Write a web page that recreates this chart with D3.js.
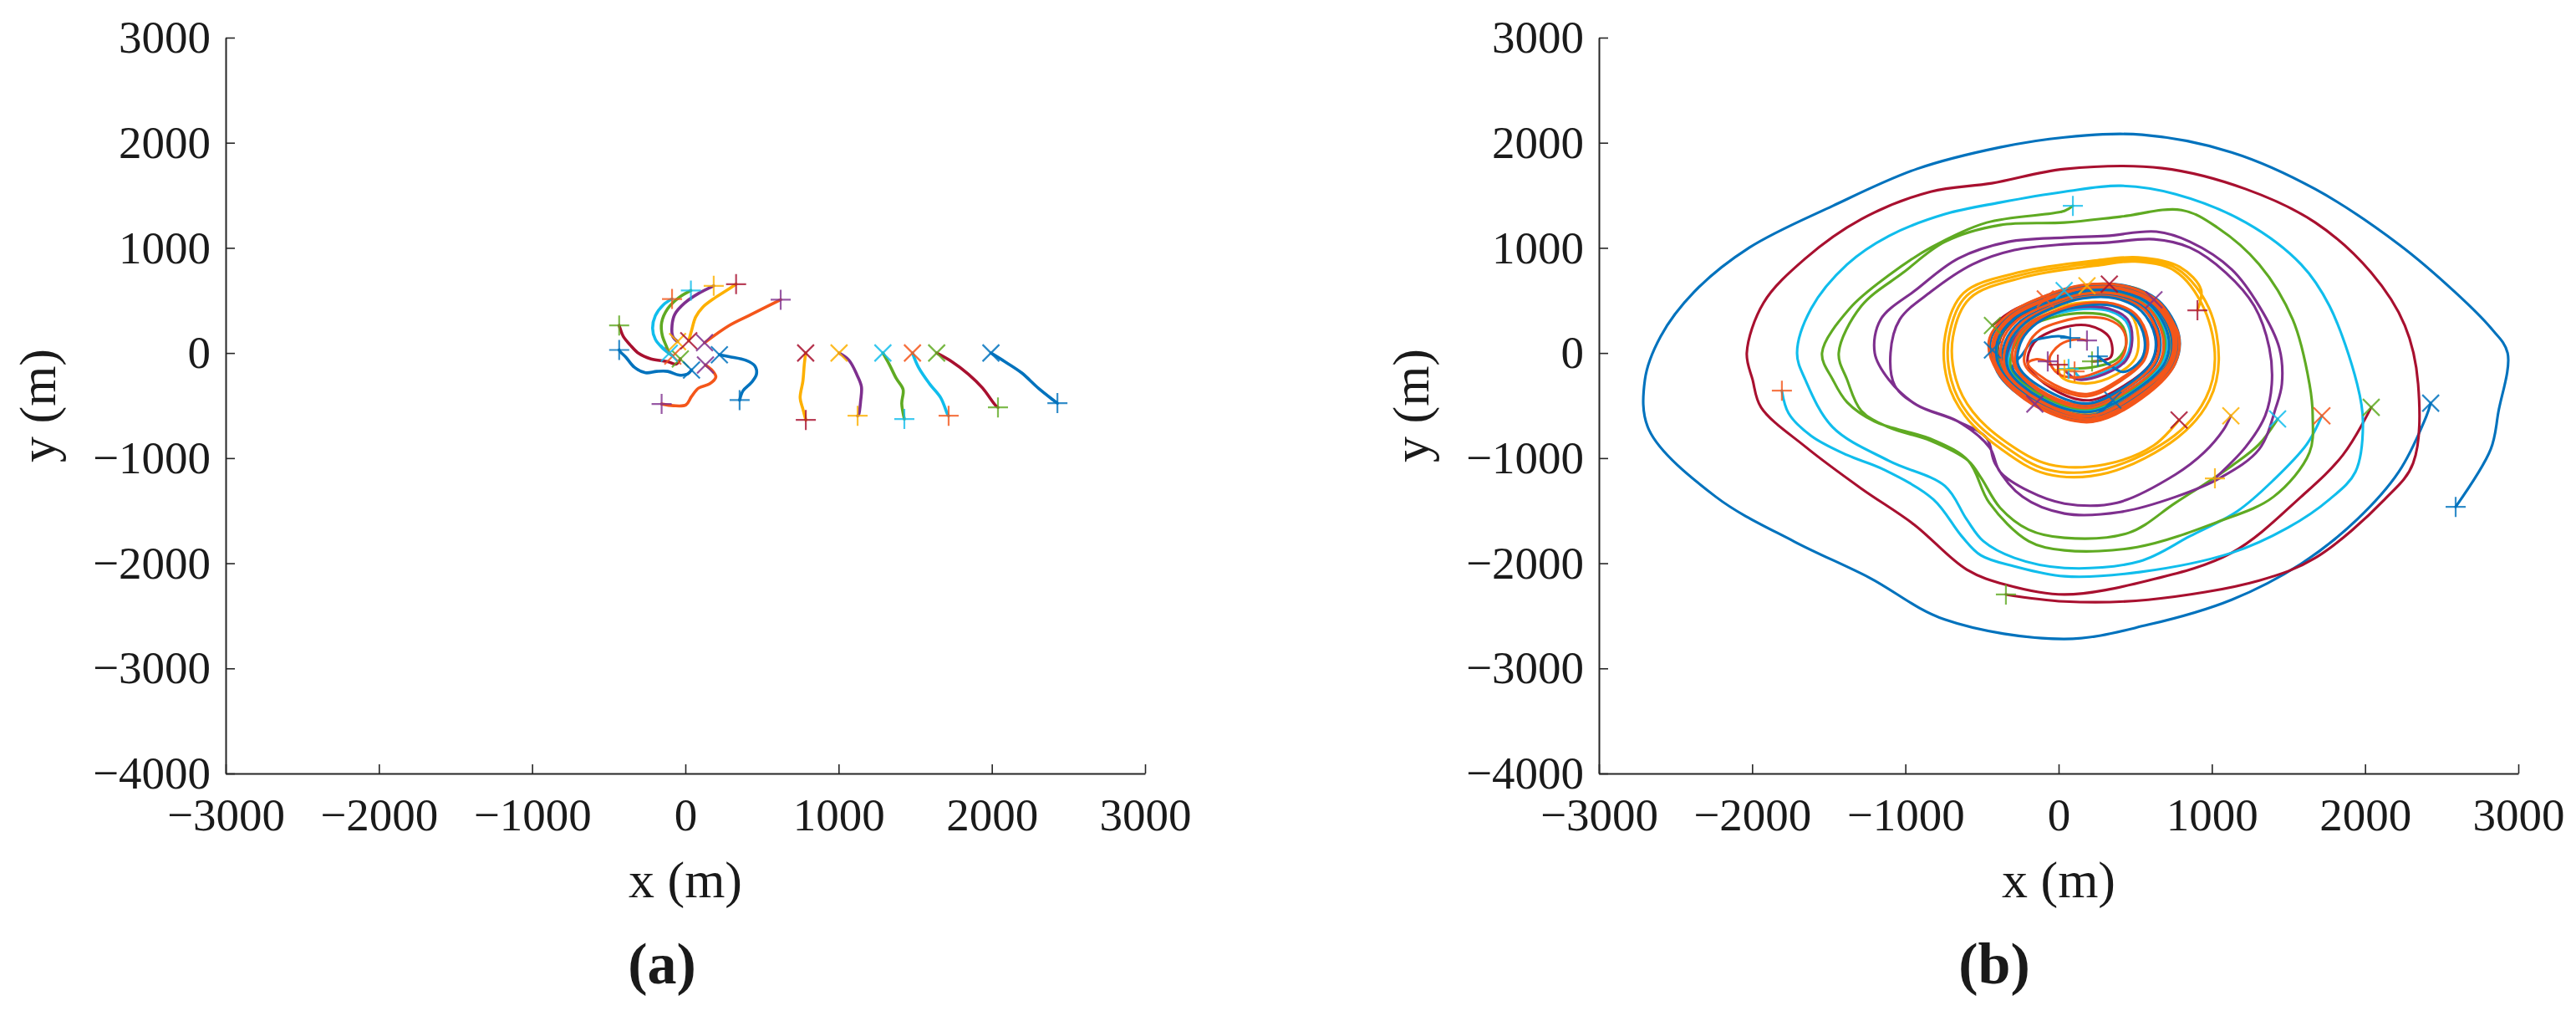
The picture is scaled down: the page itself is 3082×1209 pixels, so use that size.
<!DOCTYPE html>
<html>
<head>
<meta charset="utf-8">
<script src="https://cdn.jsdelivr.net/npm/d3@7"></script>
<style>
  body { margin: 0; background: #fff; }
  text { font-family: "Liberation Serif", "Times New Roman", serif; fill: #1a1a1a; }
</style>
</head>
<body>
<svg id="fig"></svg>
<script>
// axis ticks
const xTicks = [-3000, -2000, -1000, 0, 1000, 2000, 3000];
const yTicks = [-4000, -3000, -2000, -1000, 0, 1000, 2000, 3000];
const panelLabels = ["(a)", "(b)"];

// ---- panel (a): trajectories, start = first point (x), end = last point (+)
const aRed = [[-33,-56],[-60,-105],[-115,-82],[-224,-56],[-305,-3],[-360,76],[-405,157],[-425,230],[-432,262]];
const aBlue1 = [[40,-162],[13,-201],[-42,-210],[-115,-175],[-187,-175],[-260,-188],[-333,-135],[-387,-42],[-425,13],[-432,29]];
const aBlue2 = [[222,-16],[286,-34],[395,-69],[453,-122],[464,-201],[431,-281],[376,-360],[354,-448]];
const aOrange1 = [[125,98],[286,262],[431,368],[622,507]];
const aOrange2 = [[131,-114],[176,-167],[199,-228],[158,-294],[86,-334],[40,-414],[4,-493],[-78,-501],[-155,-485]];
const aCyanC = [[-82,-29],[-151,50],[-196,130],[-214,236],[-196,355],[-142,461],[-87,514]];
const aGreenC = [[-105,-3],[-124,64],[-151,169],[-155,289],[-115,422],[-42,527],[36,594]];
const aPurpleC = [[-51,109],[-82,157],[-87,262],[-69,368],[-5,475],[86,567],[185,639]];
const aYellowC = [[22,117],[40,211],[67,342],[113,435],[195,527],[267,594],[331,655]];
const aYellow = [[785,0],[776,-109],[767,-268],[749,-427],[767,-533],[786,-637]];
const aPurple = [[1003,0],[1068,-69],[1122,-215],[1149,-321],[1144,-453],[1131,-586],[1124,-597]];
const aGreen = [[1289,0],[1331,-109],[1376,-241],[1421,-348],[1412,-480],[1429,-628]];
const aCyan = [[1482,0],[1521,-135],[1594,-294],[1667,-427],[1712,-586],[1718,-597]];
const aRedR = [[1640,0],[1739,-82],[1848,-202],[1940,-334],[2021,-493],[2040,-517]];
const aBlue = [[1994,0],[2085,-82],[2194,-188],[2303,-334],[2394,-440],[2428,-477]];

// ---- panel (b): outer spirals
const bBlue = [[2428,-477],[2400,-600],[2220,-1130],[1948,-1583],[1582,-2005],[1129,-2347],[584,-2585],[38,-2720],[-744,-2535],[-1235,-2137],[-1726,-1793],[-2237,-1368],[-2673,-732],[-2700,-255],[-2597,159],[-2379,581],[-2019,1002],[-1473,1400],[-927,1750],[-382,1957],[38,2052],[546,2076],[1129,1909],[1675,1559],[2220,1034],[2586,581],[2820,239],[2930,0],[2870,-560],[2820,-915],[2591,-1464]];
const bRed = [[2040,-517],[1855,-970],[1582,-1368],[1129,-1901],[584,-2164],[38,-2297],[-344,-2204],[-600,-2060],[-944,-1631],[-1288,-1289],[-1653,-891],[-1942,-517],[-1997,-255],[-2035,0],[-1926,477],[-1653,899],[-1288,1273],[-835,1535],[-436,1615],[38,1750],[676,1758],[1222,1559],[1675,1241],[2040,764],[2259,263],[2346,-294],[2313,-1050],[2128,-1392],[1675,-1949],[1309,-2164],[584,-2347],[38,-2363],[-344,-2297]];
const bCyan = [[1718,-597],[1620,-867],[1402,-1209],[1167,-1504],[857,-1742],[529,-1981],[38,-2045],[-289,-1949],[-491,-1790],[-600,-1583],[-742,-1265],[-1107,-1026],[-1473,-708],[-1653,-255],[-1707,0],[-1615,422],[-1380,843],[-1107,1114],[-742,1321],[-382,1432],[38,1535],[404,1591],[764,1511],[1222,1241],[1582,843],[1768,446],[1948,-294],[1986,-652],[1937,-1130],[1768,-1392],[1495,-1663],[1129,-1901],[529,-2084],[38,-2124],[-289,-2029],[-507,-1925],[-633,-1742],[-818,-1392],[-1146,-1106],[-1380,-971],[-1615,-788],[-1762,-573],[-1806,-358]];
const bGreen = [[1429,-628],[1309,-867],[1129,-1074],[764,-1424],[458,-1710],[38,-1758],[-196,-1680],[-382,-1472],[-507,-1185],[-589,-1026],[-835,-835],[-1107,-708],[-1288,-549],[-1380,-255],[-1435,0],[-1288,446],[-1015,764],[-742,1058],[-382,1217],[38,1241],[404,1297],[802,1360],[1037,1193],[1309,843],[1528,318],[1637,-294],[1658,-597],[1637,-947],[1402,-1368],[1037,-1607],[513,-1846],[38,-1877],[-196,-1790],[-453,-1424],[-589,-1026],[-818,-827],[-1200,-652],[-1380,-469],[-1473,-255],[-1544,0],[-1364,422],[-1107,740],[-835,1002],[-469,1241],[38,1352],[93,1400]];
const bPurple = [[1124,-597],[1075,-732],[949,-947],[764,-1154],[382,-1424],[38,-1432],[-196,-1313],[-382,-1130],[-450,-900],[-655,-652],[-927,-493],[-1107,-255],[-1200,0],[-1162,318],[-927,605],[-655,899],[-327,1058],[38,1098],[311,1114],[638,1154],[857,1058],[1129,796],[1309,446],[1440,48],[1457,-294],[1418,-517],[1309,-915],[1058,-1185],[764,-1368],[404,-1512],[38,-1527],[-235,-1368],[-415,-1050],[-469,-811],[-655,-652],[-927,-493],[-1069,-310],[-1097,0],[-1037,318],[-835,581],[-562,843],[-289,979],[38,1034],[311,1050],[622,1082],[857,1002],[1091,764],[1277,446],[1375,48],[1391,-294],[1348,-597],[1222,-891],[1020,-1193]];
const bYellow = [[786,-637],[620,-880],[300,-1060],[-60,-1060],[-330,-860],[-560,-560],[-670,-250],[-690,150],[-580,520],[-230,720],[240,830],[500,870],[760,780],[950,420],[1020,-60],[960,-430],[760,-780],[310,-1100],[-70,-1110],[-350,-890],[-590,-580],[-700,-260],[-715,160],[-600,545],[-240,745],[240,855],[510,890],[775,800],[980,430],[1045,-70],[985,-445],[780,-800],[320,-1140],[-80,-1150],[-370,-920],[-610,-600],[-725,-270],[-740,170],[-620,570],[-250,770],[240,880],[520,910],[790,820],[930,600],[906,406]];

// ---- panel (b): agents circling the centre
const bRedC = [[-432,262],[-280,420],[-60,520],[150,610],[400,610],[620,475],[745,165],[725,-95],[545,-355],[210,-600],[-120,-470],[-365,-165],[-390,100],[-285,320],[-55,480],[155,560],[380,555],[560,420],[640,155],[610,-80],[460,-280],[200,-450],[-40,-340],[-200,-110],[-160,100],[0,230],[200,260],[330,150],[340,-40],[218,-80]];
const bCyanC = [[-87,514],[150,630],[410,625],[635,490],[760,170],[735,-95],[555,-365],[215,-615],[-130,-480],[-375,-170],[-405,105],[-295,335],[-60,495],[155,575],[390,575],[590,445],[700,160],[680,-85],[510,-330],[205,-545],[-95,-430],[-320,-145],[-300,95],[-190,270],[-20,370],[160,420],[330,400],[440,300],[470,110],[430,-60],[300,-180],[150,-240],[104,-175]];
const bGreenC = [[36,594],[300,640],[560,550],[750,200],[740,-95],[560,-360],[215,-605],[-125,-470],[-370,-165],[-395,100],[-285,330],[-55,490],[155,565],[385,565],[580,440],[690,160],[665,-85],[500,-320],[200,-530],[-90,-420],[-310,-140],[-280,90],[-180,260],[-10,350],[170,380],[330,350],[420,250],[440,80],[380,-60],[240,-130],[65,-151]];
const bPurpleC = [[185,639],[420,640],[640,495],[770,170],[745,-95],[560,-370],[215,-620],[-130,-485],[-380,-170],[-410,100],[-300,335],[-65,500],[150,590],[395,590],[605,460],[720,165],[700,-90],[525,-340],[205,-570],[-100,-445],[-335,-150],[-310,95],[-200,280],[-30,390],[160,440],[330,420],[450,320],[480,120],[440,-70],[300,-200],[120,-250],[38,-159]];
const bYellowC = [[331,655],[560,580],[760,210],[755,-100],[570,-375],[218,-635],[-140,-495],[-385,-175],[-420,105],[-310,345],[-70,515],[150,605],[400,600],[615,465],[730,165],[710,-90],[530,-345],[205,-580],[-110,-450],[-340,-150],[-320,100],[-210,290],[-35,420],[160,480],[340,470],[470,370],[520,150],[500,-50],[380,-200],[180,-290],[20,-230],[-5,-111]];
const bBlue1 = [[-432,29],[-350,330],[-90,540],[150,640],[420,645],[650,500],[785,170],[760,-100],[580,-380],[220,-650],[-150,-500],[-400,-180],[-420,100],[-300,340],[-70,500],[150,600],[400,600],[615,465],[735,165],[715,-95],[535,-350],[210,-590],[-120,-460],[-360,-160],[-350,100],[-250,300],[-45,455],[160,545],[380,545],[565,425],[660,160],[640,-80],[480,-300],[200,-505],[-85,-400],[-300,-140],[-240,-20],[-170,110],[-90,145],[0,160],[76,143]];
const bBlue2 = [[354,-448],[200,-620],[-130,-490],[-380,-170],[-445,110],[-330,350],[-80,530],[150,625],[410,625],[640,485],[770,170],[745,-95],[560,-365],[215,-610],[-125,-475],[-375,-170],[-400,105],[-290,325],[-60,490],[150,585],[395,585],[600,455],[715,165],[695,-90],[520,-335],[205,-560],[-105,-440],[-330,-150],[-320,95],[-220,285],[-40,430],[160,520],[370,520],[540,400],[630,155],[610,-75],[465,-285],[195,-480],[-60,-370],[-260,-130],[-250,90],[-170,250],[-20,380],[160,450],[350,450],[490,350],[560,140],[540,-60],[420,-180],[330,-110],[256,-32]];
const bOrange1 = [[622,507],[780,190],[760,-100],[585,-385],[220,-655],[-145,-510],[-395,-185],[-455,115],[-335,360],[-85,545],[150,645],[420,640],[640,495],[765,175],[740,-95],[565,-370],[215,-625],[-135,-485],[-385,-175],[-430,105],[-315,345],[-75,520],[150,615],[410,615],[630,475],[750,170],[725,-95],[545,-355],[210,-600],[-115,-465],[-355,-160],[-370,100],[-270,310],[-50,470],[155,560],[385,560],[580,435],[680,160],[660,-85],[495,-315],[200,-520],[-75,-410],[-285,-135],[-290,90],[-200,270],[-30,395],[160,470],[355,470],[505,365],[580,145],[560,-65],[420,-250],[190,-410],[-40,-320],[-220,-110],[-200,80],[-120,220],[20,300],[170,340],[320,320],[420,220],[440,70],[400,-70],[290,-160],[140,-230],[0,-200],[-60,-60],[10,80],[120,130],[185,119]];
const bOrange2 = [[-155,-485],[-390,-180],[-450,110],[-335,355],[-85,540],[150,640],[415,640],[645,495],[775,175],[755,-100],[575,-380],[220,-645],[-135,-500],[-380,-175],[-415,105],[-305,340],[-65,510],[150,610],[405,605],[620,470],[745,170],[720,-95],[540,-350],[210,-595],[-110,-455],[-345,-155],[-335,100],[-235,295],[-40,445],[160,530],[375,530],[555,415],[650,155],[630,-80],[475,-300],[200,-495],[-70,-395],[-275,-130],[-265,90],[-180,260],[-25,385],[160,460],[350,460],[495,360],[570,145],[550,-65],[410,-240],[185,-390],[-30,-300],[-200,-100],[-150,-60],[-71,-80]];

const colors = {
  blue: "#0072BD", orange: "#F4561A", yellow: "#FDB000", purple: "#7E2F8E",
  green: "#5FAA22", cyan: "#10BDEC", red: "#A8102F"
};

// line colour / marker colour for each agent
const seriesA = [
  {pts: aRed, line: "red", mark: "green"},
  {pts: aBlue1, line: "blue", mark: "blue"},
  {pts: aCyanC, line: "cyan", mark: "orange"},
  {pts: aGreenC, line: "green", mark: "cyan"},
  {pts: aPurpleC, line: "purple", mark: "yellow"},
  {pts: aYellowC, line: "yellow", mark: "red"},
  {pts: aOrange1, line: "orange", mark: "purple"},
  {pts: aBlue2, line: "blue", mark: "blue"},
  {pts: aOrange2, line: "orange", mark: "purple"},
  {pts: aYellow, line: "yellow", mark: "red"},
  {pts: aPurple, line: "purple", mark: "yellow"},
  {pts: aGreen, line: "green", mark: "cyan"},
  {pts: aCyan, line: "cyan", mark: "orange"},
  {pts: aRedR, line: "red", mark: "green"},
  {pts: aBlue, line: "blue", mark: "blue"}
];
const seriesB = [
  {pts: bBlue, line: "blue", mark: "blue"},
  {pts: bRed, line: "red", mark: "green"},
  {pts: bCyan, line: "cyan", mark: "orange"},
  {pts: bGreen, line: "green", mark: "cyan"},
  {pts: bPurple, line: "purple", mark: "yellow"},
  {pts: bYellow, line: "yellow", mark: "red"},
  {pts: bRedC, line: "red", mark: "green"},
  {pts: bCyanC, line: "cyan", mark: "orange"},
  {pts: bGreenC, line: "green", mark: "cyan"},
  {pts: bPurpleC, line: "purple", mark: "yellow"},
  {pts: bYellowC, line: "yellow", mark: "red"},
  {pts: bBlue1, line: "blue", mark: "blue"},
  {pts: bOrange2, line: "orange", mark: "purple"},
  {pts: bBlue2, line: "blue", mark: "blue"},
  {pts: bOrange1, line: "orange", mark: "purple"}
];

const W = 3082, H = 1209;
const svg = d3.select("#fig").attr("width", W).attr("height", H);
svg.append("rect").attr("width", W).attr("height", H).attr("fill", "#fff");

const fmt = d => d < 0 ? "\u2212" + Math.abs(d) : String(d);
const plusPath = s => `M${-s},0H${s}M0,${-s}V${s}`;
const crossPath = s => `M${-s},${-s}L${s},${s}M${-s},${s}L${s},${-s}`;

function drawPanel(left, series, label, labelX, lw) {
  const x = d3.scaleLinear().domain([-3000, 3000]).range([left, left + 1100]);
  const y = d3.scaleLinear().domain([-4000, 3000]).range([925, 45]);
  const g = svg.append("g");

  const line = d3.line()
    .x(d => x(d[0])).y(d => y(d[1]))
    .curve(d3.curveCatmullRom.alpha(0.5));

  // trajectories
  series.forEach(s => {
    g.append("path")
      .attr("d", line(s.pts))
      .attr("fill", "none")
      .attr("stroke", colors[s.line])
      .attr("stroke-width", lw)
      .attr("stroke-linejoin", "round")
      .attr("stroke-linecap", "round");
  });

  // start (x) and end (+) markers
  series.forEach(s => {
    const p0 = s.pts[0], p1 = s.pts[s.pts.length - 1];
    g.append("path")
      .attr("d", crossPath(10))
      .attr("transform", `translate(${x(p0[0])},${y(p0[1])})`)
      .attr("fill", "none").attr("stroke", colors[s.mark])
      .attr("stroke-width", 2.2).attr("stroke-opacity", 0.85);
    g.append("path")
      .attr("d", plusPath(12))
      .attr("transform", `translate(${x(p1[0])},${y(p1[1])})`)
      .attr("fill", "none").attr("stroke", colors[s.mark])
      .attr("stroke-width", 2.2).attr("stroke-opacity", 0.8);
  });

  // axes
  const xAxis = d3.axisBottom(x).tickValues(xTicks).tickSize(-11).tickSizeOuter(0).tickPadding(29).tickFormat(fmt);
  const yAxis = d3.axisLeft(y).tickValues(yTicks).tickSize(-11).tickSizeOuter(0).tickPadding(18).tickFormat(fmt);

  const gx = g.append("g").attr("transform", "translate(0,925)").call(xAxis);
  const gy = g.append("g").attr("transform", `translate(${left},0)`).call(yAxis);
  [gx, gy].forEach(a => {
    a.select(".domain").attr("stroke", "#262626").attr("stroke-width", 2);
    a.selectAll(".tick line").attr("stroke", "#262626").attr("stroke-width", 1.6);
    a.selectAll(".tick text").style("font-size", "55px").attr("fill", "#1a1a1a")
      .style("font-family", '"Liberation Serif", serif');
  });

  // axis titles
  g.append("text")
    .attr("x", left + 550).attr("y", 1073)
    .attr("text-anchor", "middle")
    .style("font-size", "62px")
    .text("x (m)");
  g.append("text")
    .attr("transform", `translate(${left - 204},485) rotate(-90)`)
    .attr("text-anchor", "middle")
    .style("font-size", "62px")
    .text("y (m)");

  // sub-figure label
  g.append("text")
    .attr("x", labelX).attr("y", 1176)
    .attr("text-anchor", "middle")
    .style("font-size", "70px")
    .style("font-weight", "bold")
    .text(label);
}

drawPanel(270, seriesA, panelLabels[0], 792, 3.6);
drawPanel(1913, seriesB, panelLabels[1], 2386, 3.1);
</script>
</body>
</html>
